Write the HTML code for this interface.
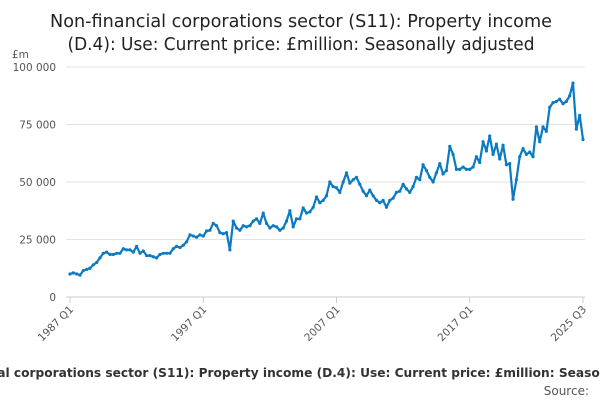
<!DOCTYPE html>
<html><head><meta charset="utf-8"><style>
body{margin:0;width:600px;height:400px;overflow:hidden;background:#fff;font-family:"DejaVu Sans","Liberation Sans",sans-serif;}
</style></head><body>
<svg width="600" height="400" id="c" font-family="DejaVu Sans, Liberation Sans, sans-serif">
<text x="301" y="27" text-anchor="middle" font-size="18" fill="#222" textLength="502" lengthAdjust="spacingAndGlyphs">Non-financial corporations sector (S11): Property income</text>
<text x="301" y="50" text-anchor="middle" font-size="18" fill="#222" textLength="467" lengthAdjust="spacingAndGlyphs">(D.4): Use: Current price: £million: Seasonally adjusted</text>
<text x="12" y="58" font-size="10.5" fill="#555">£m</text>
<g id="grid"></g><g id="xt"></g>
<polyline id="line" fill="none" stroke="#0a7ac2" stroke-width="2.2" stroke-linejoin="round"/>
<g id="pts"></g>
<text x="308" y="377" text-anchor="middle" font-size="12.2" font-weight="bold" fill="#333">Non-financial corporations sector (S11): Property income (D.4): Use: Current price: £million: Seasonally adjusted</text>
<text x="589" y="395" text-anchor="end" font-size="12" fill="#555">Source:</text>
</svg>
<script>
const yTicks=[0,25000,50000,75000,100000];
const yTickLabels=["0","25 000","50 000","75 000","100 000"];
const xTickIdx=[0,40,80,120,154];
const xTickLabels=["1987 Q1","1997 Q1","2007 Q1","2017 Q1","2025 Q3"];
const values=[10,10.5,10,9.5,11.5,12,12.5,14,15,17,19,19.5,18.5,18.5,19,19,21,20.5,20.5,19.5,22,19,20,18,18,17.5,17,18.5,19,19,19,21,22,21.5,22.5,24,27,26.5,26,27,26.5,28.7,29,32,31,28,27.5,28,20.5,33,30,29,31,30.5,31,33,34,32,36.5,32,30,31,30.5,29,30,33,37.5,30.5,34,34,38.7,36.5,37,39,43.5,41,42,44,50,48,47.5,45.5,50,54,49.5,51,52,49,46,44,46.5,44,42,41,42,39,42,43,45.5,46,49,47,45.5,48,52,51,57.5,55,52,50,54,58,53.5,55,65.5,62,55.5,55.5,56.5,55.5,55.5,56.5,61,58.5,67.5,63.5,70,62,66.5,60,66,57.5,58,42.5,51,61,64.5,62,63,61,74,67.5,74,72,82.5,84.5,85,86,84,85,87.5,93,73,79,68.5].map(v=>v*1000);
const NS="http://www.w3.org/2000/svg";
const X0=70,X1=583,Y0=297,Y1=67;
const xs=i=>X0+(X1-X0)*i/(values.length-1);
const ys=v=>Y0-(Y0-Y1)*v/100000;
const grid=document.getElementById('grid');
yTicks.forEach((t,k)=>{
 const l=document.createElementNS(NS,'line');
 l.setAttribute('x1',66);l.setAttribute('x2',585);l.setAttribute('y1',ys(t));l.setAttribute('y2',ys(t));
 l.setAttribute('stroke',k==0?'#ccc':'#e3e3e3');
 
 
 grid.appendChild(l);
 const tx=document.createElementNS(NS,'text');
 tx.setAttribute('x',56);tx.setAttribute('y',ys(t)+4);tx.setAttribute('text-anchor','end');
 tx.setAttribute('font-size','10.5');tx.setAttribute('fill','#555');tx.textContent=yTickLabels[k];
 
 
 grid.appendChild(tx);
});
const xt=document.getElementById('xt');
xTickIdx.forEach((i,k)=>{
 const x=xs(i);
 const l=document.createElementNS(NS,'line');
 l.setAttribute('x1',x);l.setAttribute('x2',x);l.setAttribute('y1',297);l.setAttribute('y2',303);l.setAttribute('stroke','#ccc');
 
 
 xt.appendChild(l);
 const tx=document.createElementNS(NS,'text');
 tx.setAttribute('x',x+4);tx.setAttribute('y',310);tx.setAttribute('text-anchor','end');
 tx.setAttribute('font-size','10.5');tx.setAttribute('fill','#555');
 tx.setAttribute('transform','rotate(-45 '+(x+4)+' 310)');tx.textContent=xTickLabels[k];
 
 
 xt.appendChild(tx);
});
document.getElementById('line').setAttribute('points',values.map((v,i)=>xs(i).toFixed(1)+','+ys(v).toFixed(1)).join(' '));
const pts=document.getElementById('pts');
values.forEach((v,i)=>{
 const c=document.createElementNS(NS,'circle');
 c.setAttribute('cx',xs(i));c.setAttribute('cy',ys(v));c.setAttribute('r',1.6);c.setAttribute('fill','#0a7ac2');
 
 
 pts.appendChild(c);
});
</script>
</body></html>
